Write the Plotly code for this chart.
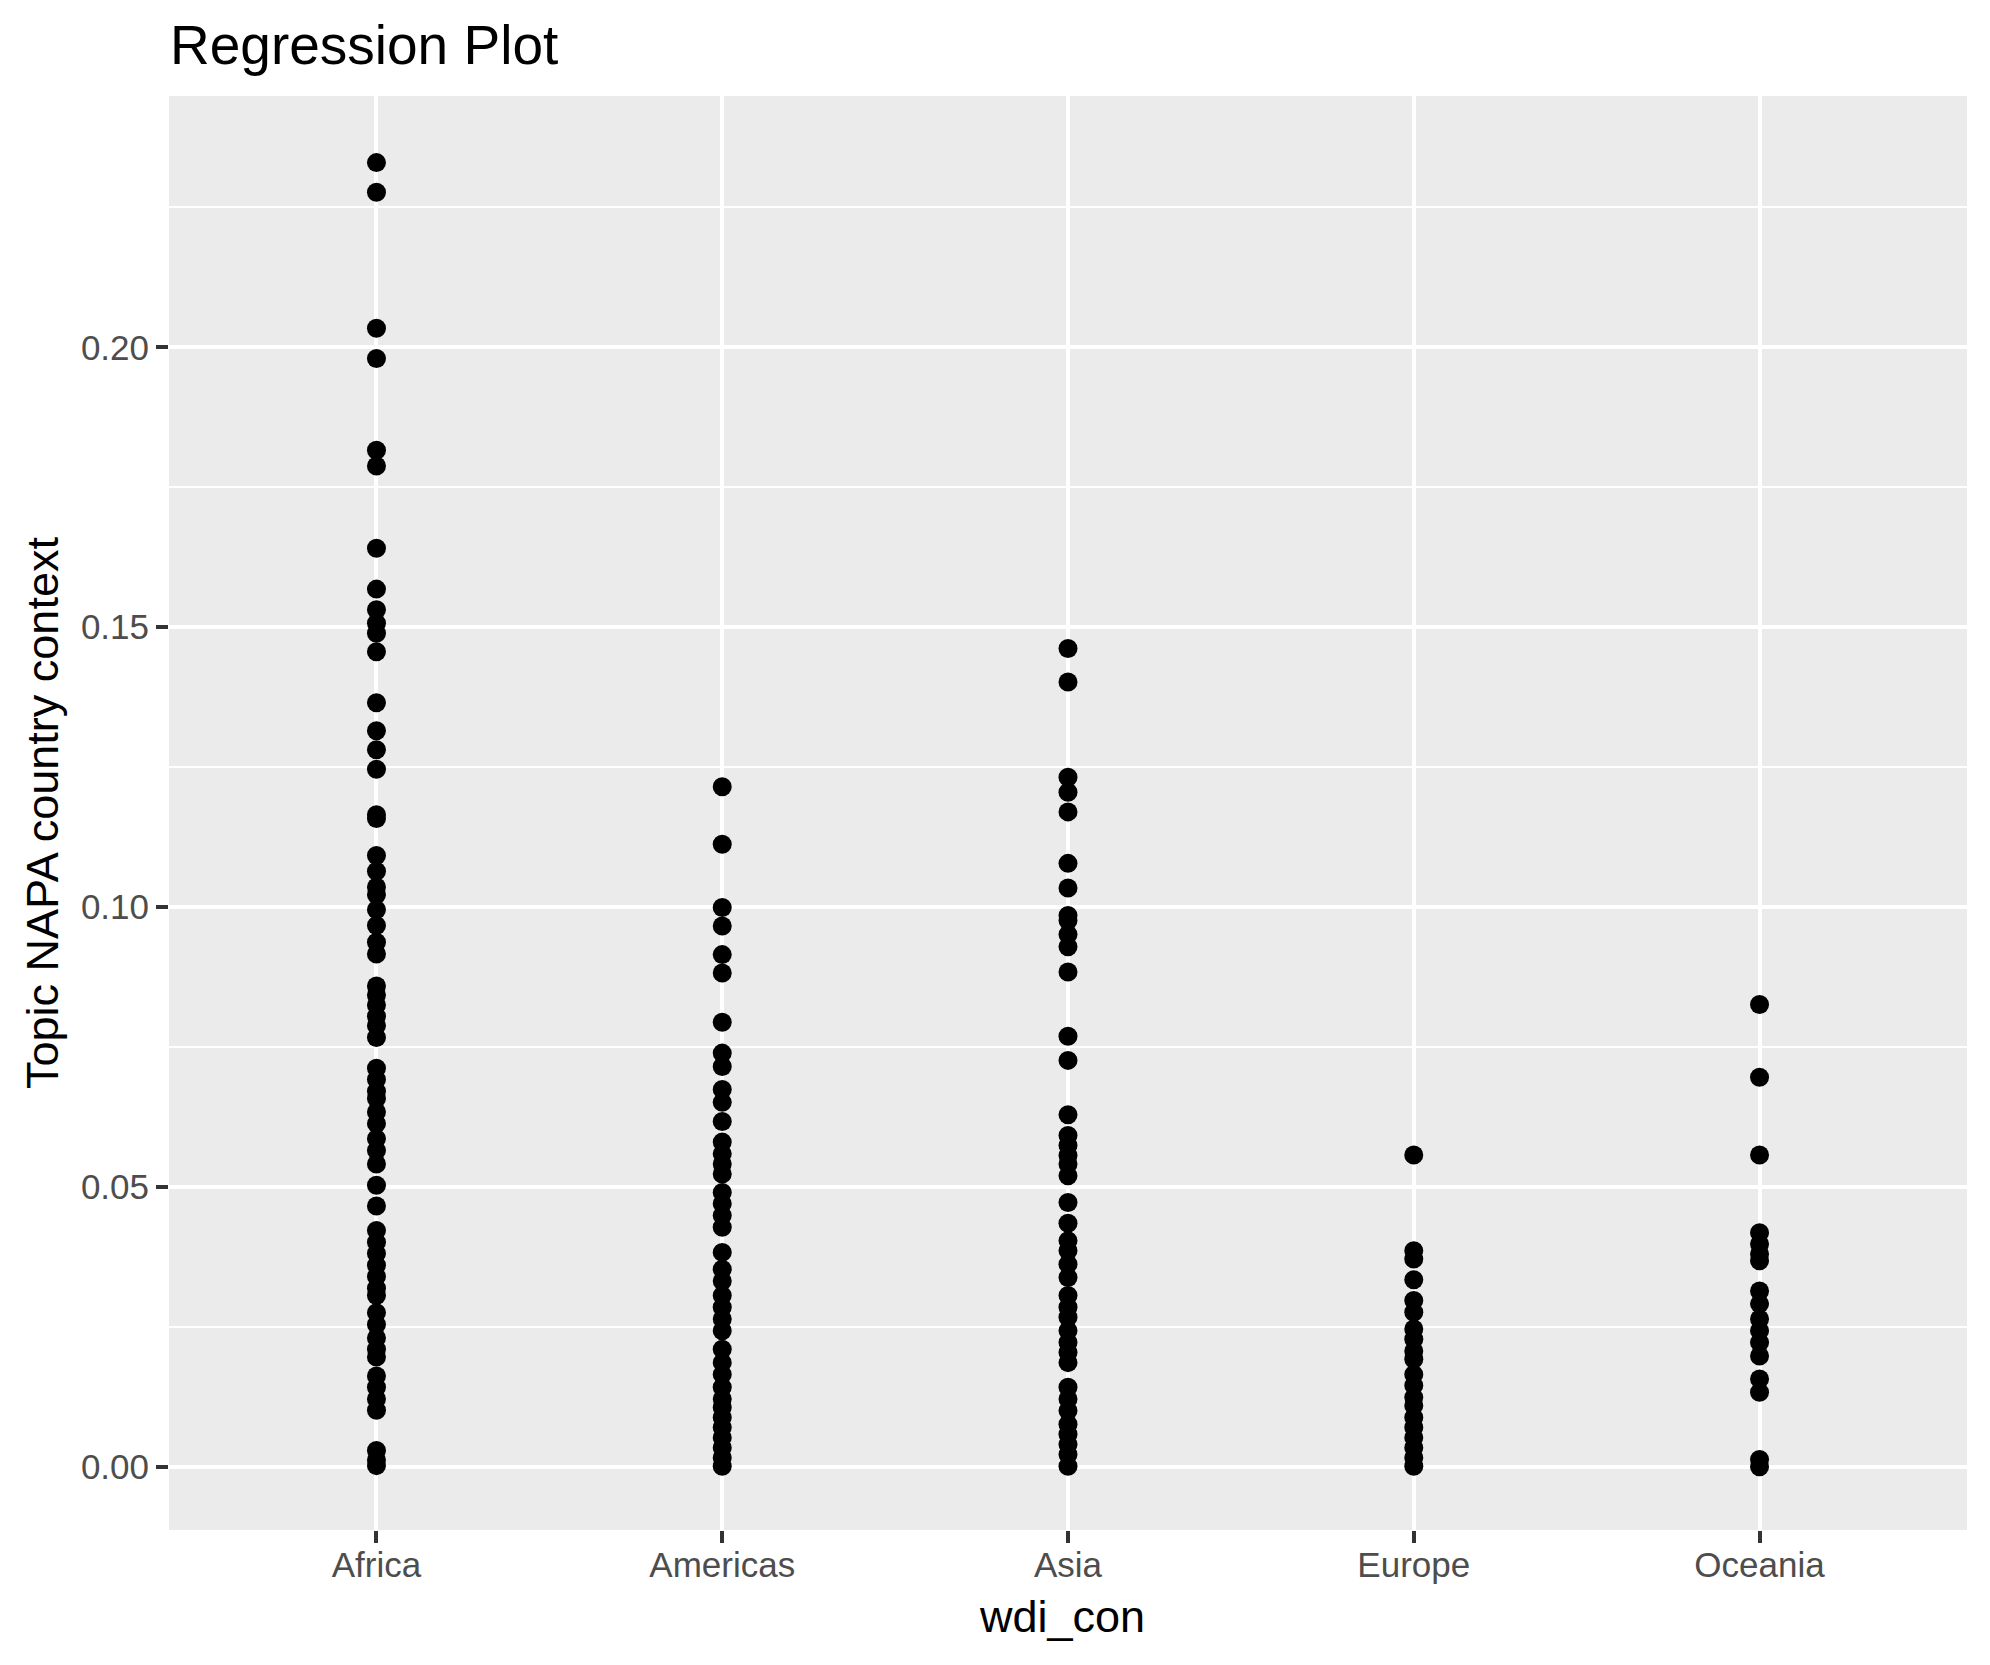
import plotly.graph_objects as go

categories = ["Africa", "Americas", "Asia", "Europe", "Oceania"]

africa = [0.2330, 0.2277, 0.2034, 0.1980, 0.1816, 0.1788, 0.1641, 0.1568, 0.1531, 0.1507,
          0.1489, 0.1456, 0.1365, 0.1315, 0.1281, 0.1246, 0.1165, 0.1158, 0.1092, 0.1064,
          0.1036, 0.1022, 0.0995, 0.0967, 0.0937, 0.0916, 0.0859, 0.0843, 0.0825, 0.0805,
          0.0788, 0.0767, 0.0712, 0.0692, 0.0671, 0.0658, 0.0634, 0.0613, 0.0586, 0.0565,
          0.0541, 0.0503, 0.0466, 0.0422, 0.0401, 0.0381, 0.0360, 0.0340, 0.0319, 0.0306,
          0.0275, 0.0254, 0.0230, 0.0210, 0.0196, 0.0162, 0.0142, 0.0121, 0.0101, 0.0029,
          0.0012, 0.0002]
americas = [0.1215, 0.1112, 0.0999, 0.0966, 0.0915, 0.0882, 0.0794, 0.0739, 0.0715, 0.0674,
            0.0651, 0.0617, 0.0580, 0.0559, 0.0541, 0.0523, 0.0490, 0.0470, 0.0449, 0.0428,
            0.0383, 0.0353, 0.0332, 0.0306, 0.0285, 0.0264, 0.0243, 0.0210, 0.0186, 0.0165,
            0.0142, 0.0121, 0.0106, 0.0088, 0.0070, 0.0052, 0.0034, 0.0016, 0.0001]
asia = [0.1462, 0.1402, 0.1232, 0.1205, 0.1170, 0.1078, 0.1034, 0.0985, 0.0976, 0.0951,
        0.0929, 0.0884, 0.0769, 0.0726, 0.0629, 0.0592, 0.0574, 0.0556, 0.0541, 0.0520,
        0.0472, 0.0435, 0.0404, 0.0386, 0.0362, 0.0338, 0.0306, 0.0285, 0.0267, 0.0243,
        0.0222, 0.0204, 0.0186, 0.0142, 0.0121, 0.0100, 0.0076, 0.0058, 0.0040, 0.0022,
        0.0001]
europe = [0.0557, 0.0386, 0.0371, 0.0334, 0.0297, 0.0276, 0.0246, 0.0228, 0.0207, 0.0192,
          0.0165, 0.0145, 0.0124, 0.0109, 0.0088, 0.0070, 0.0052, 0.0034, 0.0016, 0.0001]
oceania = [0.0826, 0.0696, 0.0557, 0.0418, 0.0398, 0.0380, 0.0368, 0.0314, 0.0291, 0.0264,
           0.0243, 0.0222, 0.0198, 0.0157, 0.0133, 0.0013, 0.0000]

series = [africa, americas, asia, europe, oceania]

y_ticks = [0.0, 0.05, 0.10, 0.15, 0.20]
y_tick_labels = ["0.00", "0.05", "0.10", "0.15", "0.20"]
y_minor = [0.025, 0.075, 0.125, 0.175, 0.225]

title_text = "Regression Plot"
x_title = "wdi_con"
y_title = "Topic NAPA country context"

xs, ys = [], []
for cat, vals in zip(categories, series):
    xs.extend([cat] * len(vals))
    ys.extend(vals)

FONT = "Liberation Sans, Arial, Helvetica, sans-serif"

fig = go.Figure()
fig.add_trace(go.Scatter(
    x=xs, y=ys, mode="markers",
    marker=dict(color="black", size=19, line=dict(width=0)),
    showlegend=False, hoverinfo="x+y",
))

fig.update_layout(
    width=1990, height=1665,
    margin=dict(l=161, r=31, t=88, b=143),
    paper_bgcolor="white",
    plot_bgcolor="#EBEBEB",
    font=dict(family=FONT, color="#4D4D4D"),
    title=dict(text=title_text, x=162 / 1990, xanchor="left", xref="container",
               y=1 - 37 / 1665, yanchor="middle", yref="container",
               font=dict(size=55, color="black", family=FONT)),
    xaxis=dict(
        type="category", categoryorder="array", categoryarray=categories,
        range=[-0.6, 4.6],
        showgrid=True, gridcolor="white", gridwidth=4.4,
        ticks="outside", ticklen=12, tickwidth=4.4, tickcolor="#333333",
        tickfont=dict(size=35, color="#4D4D4D", family=FONT),
        ticklabelstandoff=-8,
        zeroline=False, showline=False,
    ),
    yaxis=dict(
        range=[-0.0113, 0.2449],
        tickvals=y_ticks, ticktext=y_tick_labels,
        showgrid=True, gridcolor="white", gridwidth=4.4,
        minor=dict(tickvals=y_minor, showgrid=True, gridcolor="white", gridwidth=2.2, ticks=""),
        ticks="outside", ticklen=12, tickwidth=4.4, tickcolor="#333333",
        tickfont=dict(size=35, color="#4D4D4D", family=FONT),
        zeroline=False, showline=False,
    ),
    annotations=[
        dict(text=x_title, xref="paper", yref="paper", x=0.4967, y=(1529 - 1615) / 1434,
             xanchor="center", yanchor="middle", showarrow=False,
             font=dict(size=45, color="black", family=FONT)),
        dict(text=y_title, xref="paper", yref="paper", x=(42 - 169) / 1798, y=0.5,
             xanchor="center", yanchor="middle", textangle=-90, showarrow=False,
             font=dict(size=45, color="black", family=FONT)),
    ],
)

fig.write_html("out.html")
